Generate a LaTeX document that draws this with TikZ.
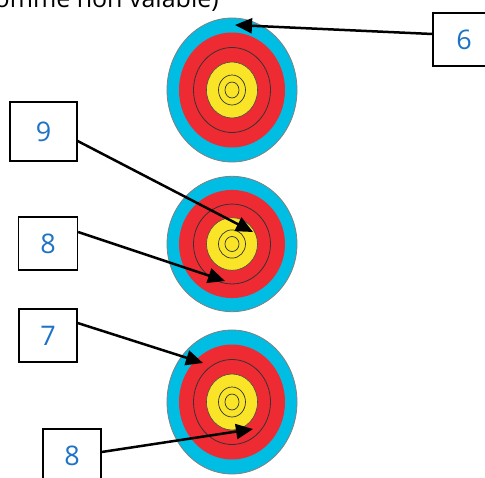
\documentclass[tikz,border=0pt]{standalone}
\usepackage{fontspec}
\setmainfont{Open Sans}
\usetikzlibrary{arrows.meta}

\definecolor{bleuciel}{RGB}{0,189,227}
\definecolor{rougecible}{RGB}{238,43,50}
\definecolor{jaunecible}{RGB}{249,228,39}
\definecolor{bleutexte}{RGB}{30,115,200}

% une cible : #1 = centre, #2 = facteur vertical
\newcommand{\cible}[2]{%
  \begin{scope}[shift={#1},yscale=#2]
    \fill [color = bleuciel, draw = gray, line width = 0.8pt] (0,0) ellipse (65pt and 72pt);
    \fill [color = rougecible] (0,0) ellipse (53pt and 57.5pt);
    \draw [line width = 0.8pt, color = black!80] (0,0) ellipse (38.5pt and 42.5pt);
    \fill [color = jaunecible, draw = black!70, line width = 0.6pt] (0,0) ellipse (25.5pt and 28pt);
    \draw [line width = 0.7pt, color = black!80] (0,0) ellipse (13.5pt and 15pt);
    \draw [line width = 0.7pt, color = black!80] (0,0) ellipse (7pt and 8pt);
  \end{scope}}

\begin{document}
\begin{tikzpicture}[x=1pt, y=-1pt,
    etiquette/.style = {draw, line width = 1.3pt, fill = white, text = bleutexte,
      font = \fontsize{27}{32}\selectfont, inner sep = 0pt},
    fleche/.style = {-{Triangle[length=17pt,width=15pt]}, line width = 2.5pt}]

    \useasboundingbox (0,0) rectangle (485,477);

    \node[anchor = base east, inner sep = 0pt, font = \fontsize{25}{30}\selectfont] (titre) at (219,7) {comme non valable)};

    \cible{(232,90)}{1}
    \cible{(232,244)}{0.94}
    \cible{(232,402)}{1}

    \node[etiquette, minimum width = 62pt, minimum height = 53pt] (lab6) at (464,39.5) {6};
    \node[etiquette, minimum width = 67pt, minimum height = 59pt] (lab9) at (43.5,131.5) {9};
    \node[etiquette, minimum width = 59pt, minimum height = 53pt] (lab8a) at (48,243.5) {8};
    \node[etiquette, minimum width = 58pt, minimum height = 53pt] (lab7) at (48,335.5) {7};
    \node[etiquette, minimum width = 58pt, minimum height = 53pt] (lab8b) at (72,455.5) {8};

    \coordinate (p6) at (235,25);
    \coordinate (p9) at (253,232);
    \coordinate (p8a) at (225,281);
    \coordinate (p7) at (203,363);
    \coordinate (p8b) at (253,429);

    \draw[fleche] ([yshift=5.5pt]lab6.west) -- (p6);
    \draw[fleche] ([yshift=-9.5pt]lab9.east) -- (p9);
    \draw[fleche] ([yshift=11.5pt]lab8a.east) -- (p8a);
    \draw[fleche] ([yshift=12.5pt]lab7.east) -- (p7);
    \draw[fleche] ([yshift=3.5pt]lab8b.east) -- (p8b);
\end{tikzpicture}
\end{document}
